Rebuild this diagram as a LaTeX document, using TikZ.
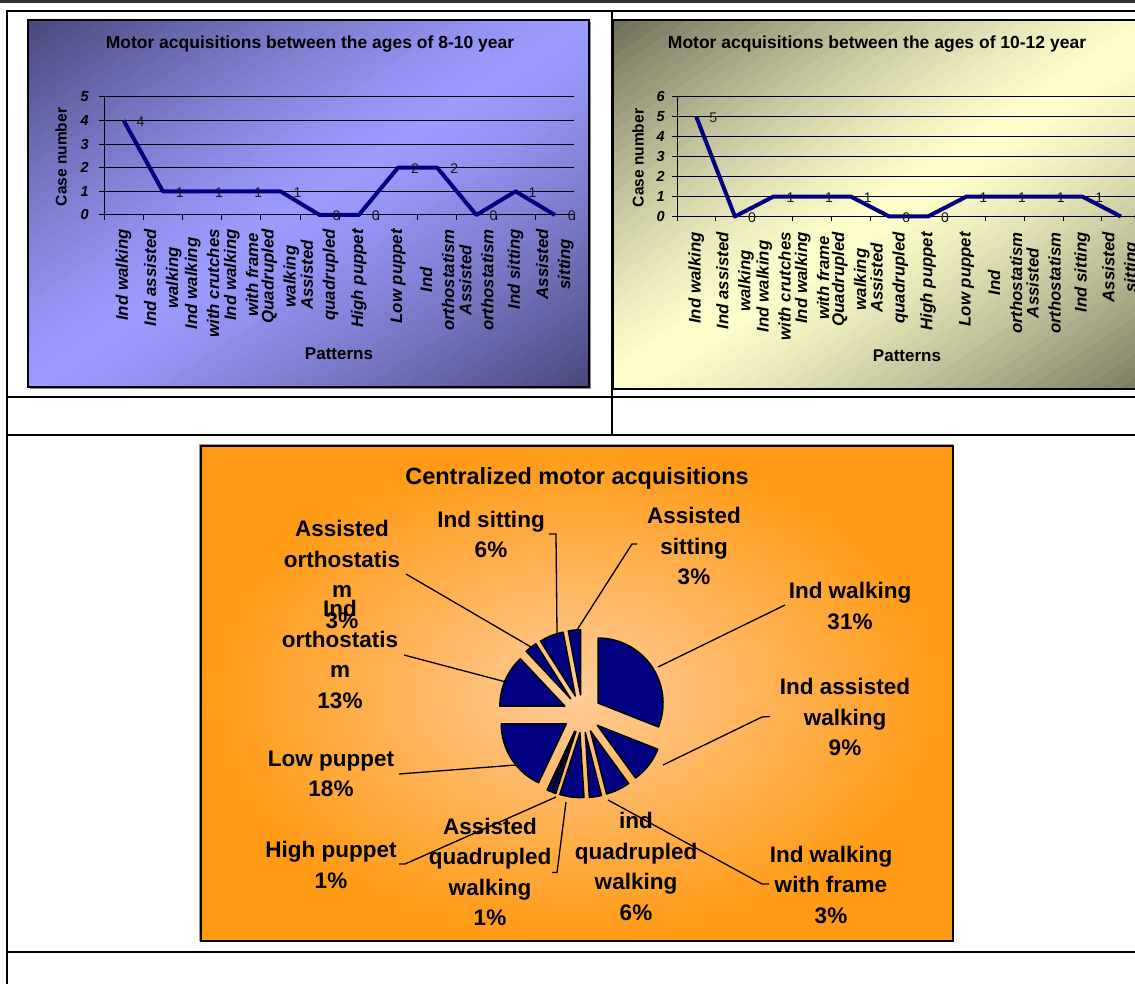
\documentclass[tikz,border=0pt]{standalone}
\usepackage{fontspec}
\setmainfont{Liberation Sans}
\usetikzlibrary{calc}
\definecolor{navy}{HTML}{000080}
\definecolor{bluedk}{HTML}{48487A}
\definecolor{bluelt}{HTML}{9B9BFF}
\definecolor{olivedk}{HTML}{6E6E58}
\definecolor{olivelt}{HTML}{FFFFCC}
\definecolor{orout}{HTML}{FF9A14}
\definecolor{orin}{HTML}{FFCC99}
\definecolor{strayor}{HTML}{FFAA2A}
\newcommand\fsz[2]{\fontsize{#1}{#2}\selectfont}
\newcommand\catlist{{Ind walking},{Ind assisted\\walking},{Ind walking\\with crutches},{Ind walking\\with frame},{Quadrupled\\walking},{Assisted\\quadrupled},{High puppet},{Low puppet},{Ind\\orthostatism},{Assisted\\orthostatism},{Ind sitting},{Assisted\\sitting}}
% diagonal gradient: dark at top-left and bottom-right corners, light band in between
\newcommand\diagshade[6]{%
 \begin{scope}
 \clip (#1,#2) rectangle (#3,#4);
 \pgfmathsetmacro\dsW{#3-#1}
 \foreach \k in {0,...,59}{
   \pgfmathsetmacro\dss{\k/30}
   \pgfmathsetmacro\dsp{100*(1-abs(\dss+1/60-1)^1.3)}
   \fill[#6!\dsp!#5] ({#1+\dsW*\dss},#2) -- ({#1+\dsW*(\dss+0.045)},#2) -- ({#1+\dsW*(\dss+0.045-1)},#4) -- ({#1+\dsW*(\dss-1)},#4) -- cycle;
 }
 \end{scope}}
\begin{document}
\begin{tikzpicture}[x=1pt,y=-1pt,
  tbl/.style={line width=2.2pt, draw=black},
  ctitle/.style={font=\fsz{17.5}{21}\bfseries, inner sep=0pt},
  axtitle/.style={font=\fsz{15.5}{18}\bfseries, inner sep=0pt},
  ytick/.style={font=\fsz{14.5}{16}\bfseries\itshape, anchor=east, inner sep=0pt},
  catlab/.style={font=\fsz{16.8}{22}\bfseries\itshape, rotate=90, anchor=east, align=center, inner sep=0pt},
  dlab/.style={font=\fsz{14}{16}, text=black!90, inner sep=0pt},
  gridl/.style={line width=1pt, draw=black},
  dataline/.style={line width=4pt, draw=navy, line join=round},
  pielab/.style={font=\fsz{22.5}{30.5}\bfseries, align=center, inner sep=0pt},
  leader/.style={line width=1.3pt, draw=black},
  slice/.style={fill=navy, draw=black, line width=1.5pt, line join=round},
]
\useasboundingbox (0,0) rectangle (1135,984);
\fill[white] (0,0) rectangle (1135,984);
\fill[black!80] (0,0) rectangle (1135,2.8);

% ---------------- left chart ----------------
\fill[black!45] (30,22) rectangle (591,389);
\diagshade{28}{20}{589}{387}{bluedk}{bluelt}
\draw[line width=1.2pt] (28,20) rectangle (589,387);
\node[ctitle] (lt) at (310,44) {Motor acquisitions between the ages of 8-10 year};
\foreach \v in {1,...,5} \draw[gridl] (99,{215-\v*23.66}) -- (574.4,{215-\v*23.66});
\draw[gridl] (99,215) -- (574.4,215);
\draw[gridl] (104,96.7) -- (104,215);
\foreach \k in {0,...,12} \draw[gridl] ({104+\k*39.2},215) -- ({104+\k*39.2},220);
\foreach \v in {0,...,5} \node[ytick] (ly\v) at (89,{215-\v*23.66}) {\v};
\node[axtitle, rotate=90] (lyt) at (61,157) {Case number};
\node[axtitle, font=\fsz{17}{20}\bfseries] (lxt) at (339,354) {Patterns};
\foreach \t [count=\i] in \catlist
  \node[catlab] (lc\i) at ({104+(\i-0.5)*39.2},229) {\t};
\foreach \v [count=\i] in {4,1,1,1,1,0,0,2,2,0,1,0}
  \coordinate (L\i) at ({104+(\i-0.5)*39.2},{215-\v*23.66});
\draw[dataline] (L1) \foreach \i in {2,...,12}{ -- (L\i)};
\foreach \v [count=\i] in {4,1,1,1,1,0,0,2,2,0,1,0}
  \node[dlab] (Ld\i) at ({104+(\i-0.5)*39.2+17},{215-\v*23.66+1}) {\v};

% ---------------- right chart ----------------
\diagshade{613}{20}{1176}{389}{olivedk}{olivelt}
\draw[line width=1.2pt] (613,20) rectangle (1176,389);
\node[ctitle] (rt) at (877,44) {Motor acquisitions between the ages of 10-12 year};
\foreach \v in {1,...,6} \draw[gridl] (672,{216.5-\v*19.95}) -- (1160,{216.5-\v*19.95});
\draw[gridl] (672,216.5) -- (1160,216.5);
\draw[gridl] (677,96.8) -- (677,216.5);
\foreach \k in {0,...,12} \draw[gridl] ({677+\k*38.6},216.5) -- ({677+\k*38.6},221.5);
\foreach \v in {0,...,6} \node[ytick] (ry\v) at (665,{216.5-\v*19.95}) {\v};
\node[axtitle, rotate=90] (ryt) at (638,158) {Case number};
\node[axtitle, font=\fsz{17}{20}\bfseries] (rxt) at (907,356) {Patterns};
\foreach \t [count=\i] in \catlist
  \node[catlab] (rc\i) at ({677+(\i-0.5)*38.6},232) {\t};
\foreach \v [count=\i] in {5,0,1,1,1,0,0,1,1,1,1,0}
  \coordinate (R\i) at ({677+(\i-0.5)*38.6},{216.5-\v*19.95});
\draw[dataline] (R1) \foreach \i in {2,...,12}{ -- (R\i)};
\foreach \v [count=\i] in {5,0,1,1,1,0,0,1,1,1,1,0}
  \node[dlab] (Rd\i) at ({677+(\i-0.5)*38.6+17},{216.5-\v*19.95+1}) {\v};

% ---------------- pie chart ----------------
\fill[black!40] (199,444) rectangle (953,941);
\shade[inner color=orin, outer color=orout] (201,446) rectangle (953,941);
\draw[line width=2pt] (201,446) rectangle (953,941);
\node[pielab, font=\fsz{23.5}{28}\bfseries] (pt) at (577,478) {Centralized motor acquisitions};

\coordinate (C) at (582.3,713.7);
\foreach \a/\b/\nm in {90/-21.6/IW, -21.6/-54/IAW, -54/-75.6/CR, -75.6/-86.4/FR, -86.4/-108/QW, -108/-111.6/AQ, -111.6/-115.2/HP, -115.2/-180/LP, -180/-226.8/IO, -226.8/-237.6/AO, -237.6/-259.2/IS, -259.2/-270/AS}{
  \pgfmathsetmacro\m{-(\a+\b)/2}
  \pgfmathsetmacro\sa{-\a}
  \pgfmathsetmacro\sb{-\b}
  \coordinate (apex\nm) at ($(C)+(\m:19)$);
  \filldraw[slice] (apex\nm) -- ++(\sa:65) arc[start angle=\sa, end angle=\sb, radius=65] -- cycle;
}

\node[font=\fsz{16}{18}, text=strayor, inner sep=0pt] (zero) at (329,541) {0};
\node[pielab] (lAO) at (342,574.5) {Assisted\\orthostatis\\m\\3\%};
\node[pielab] (lIO) at (340,654.5) {Ind\\orthostatis\\m\\13\%};
\node[pielab] (lIS) at (491,534.5) {Ind sitting\\6\%};
\node[pielab] (lAS) at (694,546) {Assisted\\sitting\\3\%};
\node[pielab] (lIW) at (850,606) {Ind walking\\31\%};
\node[pielab] (lIAW) at (845,717) {Ind assisted\\walking\\9\%};
\node[pielab] (lLP) at (331,774) {Low puppet\\18\%};
\node[pielab] (lHP) at (331,865) {High puppet\\1\%};
\node[pielab] (lAQ) at (490,872) {Assisted\\quadrupled\\walking\\1\%};
\node[pielab] (lQW) at (636,866.5) {ind\\quadrupled\\walking\\6\%};
\node[pielab] (lFR) at (831,884.5) {Ind walking\\with frame\\3\%};

% leader lines
\coordinate (aAO) at (406,574); \coordinate (bAO) at (531,647);
\coordinate (aIO) at (404,655); \coordinate (bIO) at (506,682);
\coordinate (aIS) at (549,534); \coordinate (kIS) at (556,534); \coordinate (bIS) at (557,633);
\coordinate (aAS) at (637,544); \coordinate (kAS) at (632,544); \coordinate (bAS) at (577,630);
\coordinate (aIW) at (785,605); \coordinate (bIW) at (658,667);
\coordinate (aIAW) at (770,716.5); \coordinate (kIAW) at (762,717); \coordinate (bIAW) at (663,765);
\coordinate (aLP) at (399,774); \coordinate (bLP) at (516,765);
\coordinate (aHP) at (399,864); \coordinate (kHP) at (405,864); \coordinate (bHP) at (556,797);
\coordinate (aAQ) at (552,872.5); \coordinate (kAQ) at (557,872.5); \coordinate (bAQ) at (566,802);
\coordinate (aFR) at (769,884); \coordinate (kFR) at (762,884); \coordinate (bFR) at (608,800);
\draw[leader] (aAO) -- (bAO);
\draw[leader] (aIO) -- (bIO);
\draw[leader] (aIS) -- (kIS) -- (bIS);
\draw[leader] (aAS) -- (kAS) -- (bAS);
\draw[leader] (aIW) -- (bIW);
\draw[leader] (aIAW) -- (kIAW) -- (bIAW);
\draw[leader] (aLP) -- (bLP);
\draw[leader] (aHP) -- (kHP) -- (bHP);
\draw[leader] (aAQ) -- (kAQ) -- (bAQ);
\draw[leader] (aFR) -- (kFR) -- (bFR);

% ---------------- table lines ----------------
\draw[tbl] (7,11) -- (7,984);
\draw[tbl] (6,11) -- (1135,11);
\draw[tbl] (612,11) -- (612,435);
\draw[tbl] (7,397) -- (1135,397);
\draw[tbl] (7,435) -- (1135,435);
\draw[tbl] (7,952) -- (1135,952);
\end{tikzpicture}
\end{document}
